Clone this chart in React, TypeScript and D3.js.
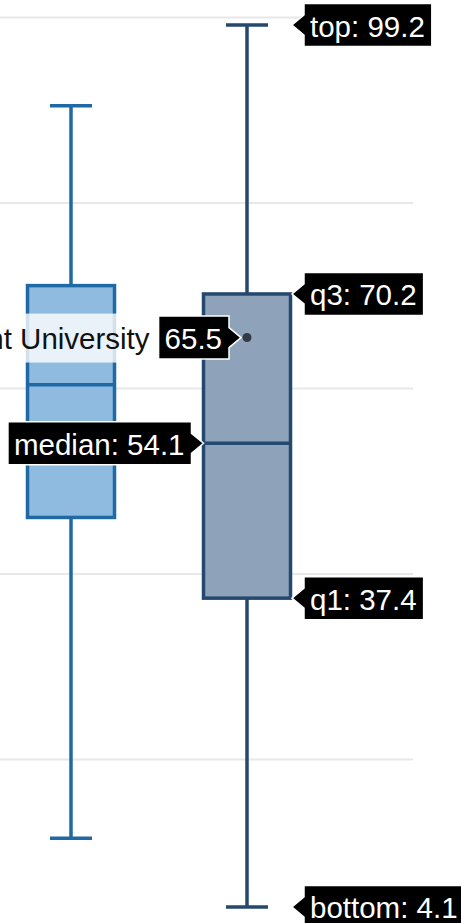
import React, { useEffect, useRef } from 'react';
import * as d3 from 'd3';

const categories = ['All Universities', 'Piedmont University'];
const lowerWhisker = [11.5, 4.1];
const q1Values = [46.1, 37.4];
const medianValues = [60.4, 54.1];
const q3Values = [71.1, 70.2];
const upperWhisker = [90.5, 99.2];
const gridTicks = [20, 40, 60, 80, 100];
const highlightName = 'Piedmont University';
const highlightValue = 65.5;
const boxFills = ['#8fbbe0', '#8ea3ba'];
const boxStrokes = ['#1f69a5', '#24486e'];

const W = 461;
const H = 923;
const FONT = "'Liberation Sans', Arial, Helvetica, sans-serif";
const FS = 29.5;

export default function App() {
  const ref = useRef<SVGSVGElement | null>(null);

  useEffect(() => {
    const svg = d3.select(ref.current);
    svg.selectAll('*').remove();

    const y = d3.scaleLinear().domain([0, 100]).range([945, 17.6]);
    const x = d3.scalePoint<string>().domain(categories).range([71, 247]);
    const boxW = 87;
    const capW = 42;
    const sw = 3.5;

    svg.append('g')
      .selectAll('line')
      .data(gridTicks)
      .join('line')
      .attr('x1', 0)
      .attr('x2', 413)
      .attr('y1', d => y(d))
      .attr('y2', d => y(d))
      .attr('stroke', '#e8e8e8')
      .attr('stroke-width', 2);

    const boxes = svg.append('g');
    categories.forEach((c, i) => {
      const cx = x(c)!;
      const g = boxes.append('g');
      const st = boxStrokes[i];
      g.append('line').attr('x1', cx).attr('x2', cx)
        .attr('y1', y(upperWhisker[i])).attr('y2', y(lowerWhisker[i]))
        .attr('stroke', st).attr('stroke-width', sw);
      g.append('line').attr('x1', cx - capW / 2).attr('x2', cx + capW / 2)
        .attr('y1', y(upperWhisker[i])).attr('y2', y(upperWhisker[i]))
        .attr('stroke', st).attr('stroke-width', sw);
      g.append('line').attr('x1', cx - capW / 2).attr('x2', cx + capW / 2)
        .attr('y1', y(lowerWhisker[i])).attr('y2', y(lowerWhisker[i]))
        .attr('stroke', st).attr('stroke-width', sw);
      g.append('rect')
        .attr('x', cx - boxW / 2)
        .attr('y', y(q3Values[i]))
        .attr('width', boxW)
        .attr('height', y(q1Values[i]) - y(q3Values[i]))
        .attr('fill', boxFills[i])
        .attr('stroke', st)
        .attr('stroke-width', sw);
      g.append('line').attr('x1', cx - boxW / 2).attr('x2', cx + boxW / 2)
        .attr('y1', y(medianValues[i])).attr('y2', y(medianValues[i]))
        .attr('stroke', st).attr('stroke-width', sw);
    });

    const hi = 1;
    const hcx = x(categories[hi])!;

    svg.append('circle')
      .attr('cx', hcx)
      .attr('cy', y(highlightValue))
      .attr('r', 4.5)
      .attr('fill', '#333a44');

    const fmt = d3.format('.1f');
    const labels = svg.append('g');

    function tip(text: string, tipX: number, tipY: number, side: 'right' | 'left') {
      const g = labels.append('g');
      const path = g.append('path');
      const t = g.append('text')
        .attr('font-family', FONT)
        .attr('font-size', FS)
        .attr('fill', '#fff')
        .attr('dominant-baseline', 'central')
        .attr('y', tipY + 1)
        .text(text);
      const tw = (t.node() as SVGTextElement).getComputedTextLength();
      const arrowW = 12;
      const h = 43;
      const rw = tw + 13;
      const rx = side === 'right' ? tipX + arrowW : tipX - arrowW - rw;
      t.attr('x', rx + 6);
      const top = tipY - h / 2;
      const bot = tipY + h / 2;
      const ah = 10;
      let d: string;
      if (side === 'right') {
        d = `M${tipX},${tipY} L${rx},${tipY - ah} L${rx},${top} L${rx + rw},${top} L${rx + rw},${bot} L${rx},${bot} L${rx},${tipY + ah} Z`;
      } else {
        const rr = rx + rw;
        d = `M${tipX},${tipY} L${rr},${tipY + ah} L${rr},${bot} L${rx},${bot} L${rx},${top} L${rr},${top} L${rr},${tipY - ah} Z`;
      }
      path.attr('d', d).attr('fill', '#000').attr('stroke', '#fff').attr('stroke-width', 1.5);
      return rx;
    }

    const rightEdge = hcx + boxW / 2 + 1.5;
    const leftEdge = hcx - boxW / 2;
    tip(`top: ${fmt(upperWhisker[hi])}`, rightEdge, y(upperWhisker[hi]), 'right');
    tip(`q3: ${fmt(q3Values[hi])}`, rightEdge, y(q3Values[hi]), 'right');
    tip(`q1: ${fmt(q1Values[hi])}`, rightEdge, y(q1Values[hi]), 'right');
    tip(`bottom: ${fmt(lowerWhisker[hi])}`, rightEdge, y(lowerWhisker[hi]), 'right');
    tip(`median: ${fmt(medianValues[hi])}`, leftEdge, y(medianValues[hi]), 'left');

    const py = y(highlightValue);
    const nameG = labels.insert('g', ':first-child');
    const valRx = tip(fmt(highlightValue), hcx - 6, py, 'left');
    const bg = nameG.append('rect');
    const nt = nameG.append('text')
      .attr('font-family', FONT)
      .attr('font-size', FS)
      .attr('fill', '#111')
      .attr('text-anchor', 'end')
      .attr('dominant-baseline', 'central')
      .attr('x', valRx - 9)
      .attr('y', py + 1)
      .text(highlightName);
    const ntw = (nt.node() as SVGTextElement).getComputedTextLength();
    bg.attr('x', valRx - 9 - ntw - 6)
      .attr('y', py - 24)
      .attr('width', ntw + 15)
      .attr('height', 49)
      .attr('fill', '#fff')
      .attr('fill-opacity', 0.8);
  }, []);

  return (
    <svg
      ref={ref}
      width={W}
      height={H}
      style={{ position: 'absolute', left: 0, top: 0, background: '#fff' }}
    />
  );
}
